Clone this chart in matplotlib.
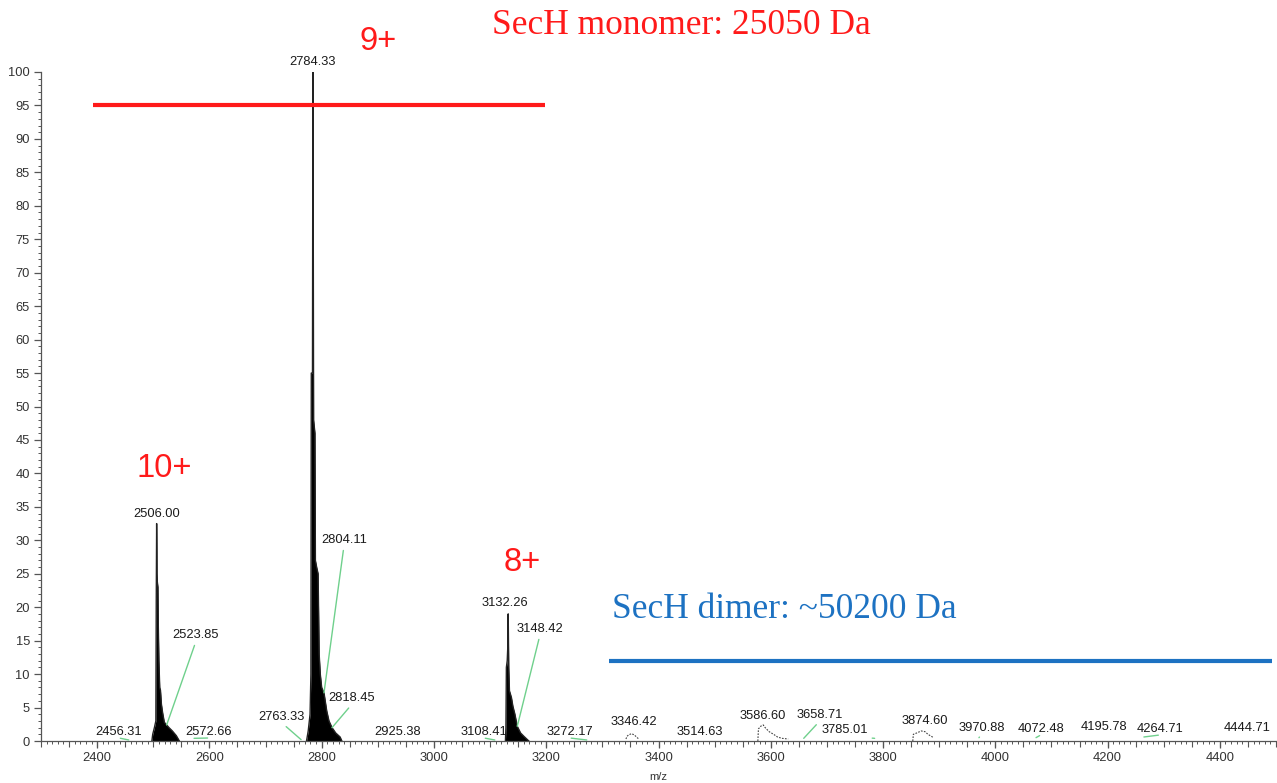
import numpy as np
import matplotlib
matplotlib.use("Agg")
import matplotlib.pyplot as plt
from matplotlib.ticker import MultipleLocator

# ---- spectrum data (m/z, relative abundance %) ----
# 10+ charge state envelope
z10_mz = [2497.5, 2499.0, 2502.0, 2504.6, 2505.3, 2506.00, 2506.6, 2507.2, 2508.3, 2509.0,
          2510.0, 2511.5, 2512.8, 2514.5, 2516.7, 2519.7, 2523.85, 2528.0, 2534.0, 2541.0, 2546.5]
z10_int = [0, 1.0, 2.0, 3.0, 21, 32.5, 25, 23.8, 23, 17,
           12, 8, 7.6, 5.5, 4.2, 2.8, 2.4, 2.0, 1.5, 0.8, 0]

# 9+ charge state envelope
z9_mz = [2773.0, 2776.0, 2779.3, 2780.8, 2781.5, 2783.6, 2784.33, 2785.0, 2785.6, 2788.0,
         2788.8, 2791.0, 2793.6, 2795.5, 2797.5, 2800.0, 2804.11, 2809.0, 2813.0, 2818.45,
         2825.0, 2832.8, 2836.0]
z9_int = [0, 1.5, 4, 10, 55, 55, 100, 77, 48, 46,
          27, 26, 25, 13, 10, 8, 7.2, 4.5, 3, 2.0,
          1.2, 0.6, 0]

# 8+ charge state envelope
z8_mz = [3127.3, 3128.2, 3129.0, 3130.5, 3131.5, 3132.26, 3133.2, 3134.5, 3138.0,
         3140.6, 3144.2, 3148.42, 3154.3, 3160.2, 3169.0]
z8_int = [0, 2, 11, 12, 14, 19.0, 11, 7.5, 6.5,
          5.2, 4, 2.2, 1.2, 0.7, 0]

# low-level dimer region features
b1_mz = [3342, 3344, 3346.42, 3352, 3357, 3362, 3365]
b1_int = [0.3, 0.7, 0.9, 1.1, 0.9, 0.5, 0.3]
b2_mz = [3577, 3578, 3582, 3586.60, 3590, 3597, 3605, 3612, 3620, 3631]
b2_int = [0, 1.8, 2.2, 2.4, 2.0, 1.4, 1.0, 0.6, 0.4, 0.3]
b3_mz = [3853, 3854, 3860, 3868, 3874.60, 3880, 3886, 3890]
b3_int = [0, 1.0, 1.2, 1.5, 1.4, 1.0, 0.7, 0.5]

# ---- peak labels ----
label_mz = [2456.31, 2506.00, 2523.85, 2572.66, 2763.33, 2784.33, 2804.11, 2818.45,
            2925.38, 3108.41, 3132.26, 3148.42, 3272.17, 3346.42, 3514.63, 3586.60,
            3658.71, 3785.01, 3874.60, 3970.88, 4072.48, 4195.78, 4264.71, 4444.71]
label_int = [0.15, 32.5, 2.4, 0.4, 0.2, 100, 7.2, 2.0,
             0.1, 0.15, 19.0, 2.2, 0.15, 0.9, 0.1, 2.4,
             0.4, 0.4, 1.5, 0.5, 0.5, 0.1, 0.6, 0.1]
label_text_x = [2438.9, 2506.0, 2576.0, 2599.2, 2729.2, 2784.33, 2839.6, 2853.9,
                2935.8, 3089.0, 3126.4, 3188.7, 3242.0, 3356.0, 3473.7, 3585.8,
                3687.4, 3731.9, 3874.4, 3975.9, 4081.0, 4193.2, 4292.9, 4447.8]
label_text_y = [0.45, 33.0, 14.9, 0.45, 2.7, 100.6, 29.1, 5.5,
                0.45, 0.45, 19.7, 15.8, 0.45, 1.9, 0.45, 2.8,
                3.0, 0.75, 2.1, 1.0, 0.9, 1.2, 0.9, 1.0]
label_leader = [True, False, True, True, True, False, True, True,
                False, True, False, True, True, False, False, False,
                True, True, False, True, True, False, True, False]

charge_labels = ["10+", "9+", "8+"]
charge_pos = [(2519, 40.7), (2900, 104.6), (3158, 26.7)]

W, H = 1277, 783
fig = plt.figure(figsize=(W / 100, H / 100), dpi=100)
ax = fig.add_axes([41 / W, 42 / H, 1235 / W, 669 / H])
ax.set_xlim(2300, 4500)
ax.set_ylim(0, 100)

spine_col = "#555555"
for s in ("top", "right"):
    ax.spines[s].set_visible(False)
for s in ("left", "bottom"):
    ax.spines[s].set_color(spine_col)
    ax.spines[s].set_linewidth(0.9)

# charge-state envelopes
for mz, inten in ((z10_mz, z10_int), (z9_mz, z9_int), (z8_mz, z8_int)):
    ax.fill_between(mz, 0, inten, color="black", lw=0, zorder=2)
    ax.plot(mz, inten, color="#222222", lw=1.0, zorder=2)

# small dimer-region features
for mz, inten in ((b1_mz, b1_int), (b2_mz, b2_int), (b3_mz, b3_int)):
    ax.plot(mz, inten, color="#444444", lw=0.8, ls=(0, (1.5, 1.2)), zorder=2)

# peak labels with leader lines
num_font = "Liberation Sans"
for mz, it, tx, ty, lead in zip(label_mz, label_int, label_text_x, label_text_y, label_leader):
    if lead:
        ax.annotate(f"{mz:.2f}", xy=(mz, it), xytext=(tx, ty), ha="center", va="bottom",
                    fontsize=9.3, family=num_font, color="#1a1a1a", annotation_clip=False,
                    arrowprops=dict(arrowstyle="-", color="#6fd08c", lw=1.0,
                                    relpos=(0.5, 0.0), shrinkA=1, shrinkB=0))
    else:
        ax.text(tx, ty, f"{mz:.2f}", ha="center", va="bottom", fontsize=9.3,
                family=num_font, color="#1a1a1a", clip_on=False)

# mass annotations
red = "#ff1a1a"
blue = "#1d72c2"
ax.plot([2393, 3198], [95, 95], color=red, lw=3, solid_capstyle="butt", zorder=4)
ax.plot([3312, 4492], [12, 12], color=blue, lw=3, solid_capstyle="butt", zorder=4)
fig.text(492 / W, 1 - 25 / H, "SecH monomer: 25050 Da", color=red, fontsize=25.5,
         family="Liberation Serif", ha="left", va="center")
fig.text(612 / W, 1 - 609 / H, "SecH dimer: ~50200 Da", color=blue, fontsize=25.5,
         family="Liberation Serif", ha="left", va="center")

for txt, (x, y) in zip(charge_labels, charge_pos):
    ax.text(x, y, txt, color=red, fontsize=23.5, family="Liberation Sans",
            ha="center", va="center", clip_on=False)

# axis ticks
ax.set_xticks(np.arange(2400, 4401, 200))
ax.xaxis.set_minor_locator(MultipleLocator(10))
ax.yaxis.set_major_locator(MultipleLocator(5))
ax.yaxis.set_minor_locator(MultipleLocator(1))
ax.tick_params(which="major", length=5, width=0.9, color=spine_col,
               labelsize=9.3, labelcolor="#333333", pad=3)
ax.tick_params(which="minor", length=2.5, width=0.7, color=spine_col)
for lab in ax.get_xticklabels() + ax.get_yticklabels():
    lab.set_family(num_font)

sec = ax.secondary_xaxis("bottom")
sec.set_xticks(np.arange(2300, 4501, 50))
sec.tick_params(length=4, width=0.8, color=spine_col, labelbottom=False)
sec.spines["bottom"].set_visible(False)

ax.set_xlabel("m/z", fontsize=8, family=num_font, color="#333333", labelpad=6)

fig.savefig("out.png", dpi=100)
